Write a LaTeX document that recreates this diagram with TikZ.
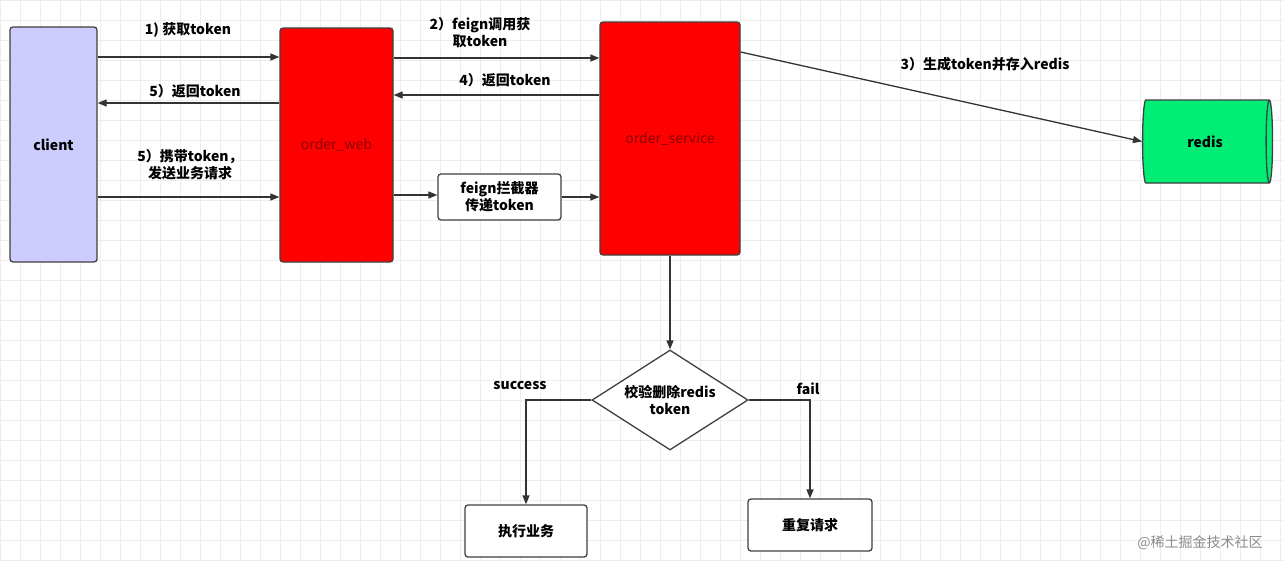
\documentclass[tikz,border=0pt]{standalone}
\usepackage{fontspec}
\setmainfont{Noto Sans CJK SC}
\usetikzlibrary{shapes.geometric,arrows.meta}
\begin{document}
\begin{tikzpicture}[x=1pt,y=-1pt,
  box/.style={draw=black!75,line width=1.3pt,rounded corners=3pt,inner sep=0pt},
  arr/.style={draw=black!80,line width=1.3pt,-{Triangle[length=9pt,width=7pt]}},
  lbl/.style={font=\fontsize{14}{17}\selectfont\bfseries,align=center,inner sep=1pt},
  every node/.style={font=\fontsize{14}{17}\selectfont\bfseries}]
\fill[white] (0,0) rectangle (1284,560);
\useasboundingbox (0,0) rectangle (1284,560);
\foreach \i in {0,20,...,1280} \draw[black!7,line width=0.5pt] (\i,0) -- (\i,560);
\foreach \j in {0,20,...,560} \draw[black!7,line width=0.5pt] (0,\j) -- (1284,\j);
\node[box,fill={rgb,255:red,204;green,204;blue,255},minimum width=87pt,minimum height=235pt] (client) at (53.5,144.5) {client};
\node[box,fill=red,minimum width=113pt,minimum height=234pt,font=\fontsize{14}{16}\selectfont,text={rgb,255:red,140;green,0;blue,0}] (web) at (336.5,145) {order\_web};
\node[box,fill=red,minimum width=140pt,minimum height=233pt,font=\fontsize{14}{16}\selectfont,text={rgb,255:red,140;green,0;blue,0}] (svc) at (670,138.5) {order\_service};
\node[cylinder,draw=black!75,line width=1.3pt,fill={rgb,255:red,0;green,238;blue,118},minimum width=83pt,minimum height=130pt,shape aspect=0.35] (redis) at (1205,141.5) {redis};
\node[box,fill=white,minimum width=123pt,minimum height=46pt,align=center] (feign) at (499.5,197) {feign拦截器\\传递token};
\node[diamond,draw=black!75,line width=1.3pt,fill=white,minimum width=156pt,minimum height=100pt,inner sep=0pt,align=center,aspect=1.56] (chk) at (670,400) {校验删除redis\\token};
\node[box,fill=white,minimum width=122pt,minimum height=52pt] (exec) at (526,531) {执行业务};
\node[box,fill=white,minimum width=124pt,minimum height=52pt] (rep) at (810,525) {重复请求};
\draw[arr] (client.east|-0,57) -- (web.west|-0,57);
\node[lbl] (l1) at (188,30) {1) 获取token};
\draw[arr] (web.west|-0,103) -- (client.east|-0,103);
\node[lbl] (l5a) at (195,91) {5）返回token};
\draw[arr] (client.east|-0,197) -- (web.west|-0,197);
\node[lbl] (l5b) at (190,165) {5）携带token，\\发送业务请求};
\draw[arr] (web.east|-0,58) -- (svc.west|-0,58);
\node[lbl] (l2) at (480,33) {2）feign调用获\\取token};
\draw[arr] (svc.west|-0,95) -- (web.east|-0,95);
\node[lbl] (l4) at (505,80) {4）返回token};
\draw[arr] (web.east|-0,195) -- (feign.west|-0,195);
\draw[arr] (feign.east|-0,197) -- (svc.west|-0,197);
\draw[arr] (svc.east|-0,52) -- (redis.west);
\node[lbl] (l3) at (985,64) {3）生成token并存入redis};
\draw[arr] (svc.south) -- (chk.north);
\draw[arr] (chk.west) -| (exec.north);
\node[lbl] (ls) at (520,386) {success};
\draw[arr] (chk.east) -| (rep.north);
\node[lbl] (lf) at (808,389) {fail};
\node[font=\fontsize{14}{17}\selectfont,text=black!45] (wm) at (1200,543) {@稀土掘金技术社区};
\end{tikzpicture}
\end{document}
